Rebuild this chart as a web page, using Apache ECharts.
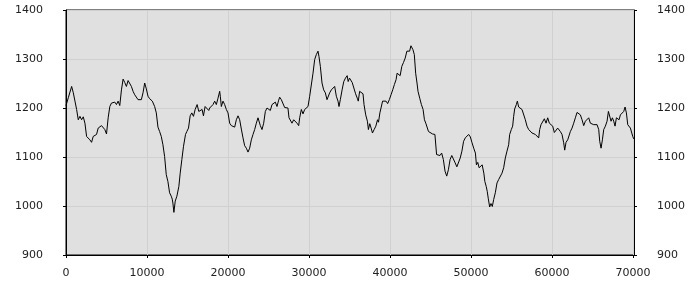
<!DOCTYPE html>
<html><head><meta charset="utf-8">
<script src="https://cdn.jsdelivr.net/npm/echarts@6/dist/echarts.min.js"></script>
<style>html,body{margin:0;padding:0;background:#fff}#c{width:700px;height:300px}</style>
</head><body><div id="c"></div>
<script>
var xValues = [0,287,697,902,1107,1311,1516,1721,1926,2131,2336,2541,2746,2951,3156,3361,3566,3770,3975,4385,4590,4795,5000,5205,5410,5615,6025,6230,6434,6639,6844,7049,7254,7459,7664,7869,8074,8279,8484,8689,8893,9098,9303,9508,9713,9918,10123,10328,10656,10943,11148,11352,11557,11762,11967,12172,12377,12582,12787,12992,13115,13197,13320,13484,13689,13934,14098,14303,14508,14754,14918,15123,15328,15533,15738,15943,16189,16393,16557,16803,16967,17172,17377,17623,17737,17943,18148,18354,18560,18765,18971,19050,19177,19383,19588,19794,20000,20206,20412,20600,20823,21029,21234,21440,21646,21851,22057,22263,22469,22674,22880,23086,23291,23497,23703,23830,23991,24197,24403,24608,24814,25020,25226,25431,25637,25840,26048,26255,26378,26584,26790,26995,27201,27400,27530,27695,27901,28107,28312,28518,28724,28847,29053,29259,29465,29670,29876,30082,30288,30494,30699,30905,31111,31230,31399,31605,31811,32016,32222,32350,32551,32757,32962,33168,33374,33579,33703,33867,34084,34292,34500,34709,34834,35000,35166,35333,35542,35750,35958,36083,36250,36458,36667,36792,37000,37208,37333,37500,37667,37833,38042,38250,38458,38580,38750,38917,39083,39292,39500,39708,39917,40125,40333,40542,40750,40875,41042,41250,41458,41667,41875,42083,42250,42417,42583,42708,42833,43000,43167,43333,43458,43667,43875,44083,44250,44417,44583,44750,44917,45250,45542,45750,45958,46167,46375,46583,46792,47000,47208,47417,47625,47833,48042,48250,48458,48667,48875,49083,49292,49500,49708,49917,50125,50333,50542,50667,50833,51000,51167,51375,51583,51708,51875,52000,52125,52299,52464,52629,52794,53000,53206,53412,53618,53823,54029,54235,54441,54647,54770,54976,55141,55264,55388,55594,55718,55882,56088,56294,56500,56706,56912,57118,57323,57529,57735,57941,58147,58353,58476,58641,58847,59053,59259,59465,59670,59876,60082,60288,60494,60700,60906,61029,61235,61441,61565,61729,61935,62059,62265,62470,62676,62882,63088,63294,63500,63706,63912,64118,64323,64529,64735,64941,65147,65353,65559,65765,65888,66053,66218,66382,66588,66794,66959,67123,67288,67453,67617,67782,67947,68111,68276,68441,68647,68853,69017,69182,69347,69511,69676,69841,69964,70088];
var yValues = [1205,1221,1244,1231,1214,1197,1176,1183,1176,1182,1169,1142,1139,1135,1130,1142,1139,1146,1159,1164,1168,1156,1147,1180,1203,1210,1212,1207,1214,1205,1237,1259,1252,1244,1256,1252,1244,1234,1227,1231,1217,1221,1217,1231,1251,1239,1224,1219,1214,1203,1190,1161,1152,1142,1125,1101,1064,1050,1027,1020,1014,1006,987,1010,1020,1040,1067,1095,1122,1146,1152,1159,1184,1190,1183,1197,1207,1193,1191,1197,1184,1203,1204,1195,1200,1197,1207,1214,1207,1220,1234,1224,1203,1214,1207,1197,1190,1169,1164,1166,1161,1176,1184,1176,1157,1139,1123,1118,1110,1118,1135,1146,1156,1169,1180,1184,1164,1156,1169,1193,1200,1200,1195,1207,1210,1212,1203,1216,1222,1217,1214,1201,1200,1200,1180,1184,1169,1176,1178,1169,1164,1180,1197,1188,1197,1193,1203,1224,1227,1271,1299,1309,1316,1305,1285,1251,1237,1231,1217,1214,1231,1237,1241,1244,1224,1214,1203,1217,1237,1254,1261,1266,1254,1261,1265,1252,1250,1229,1220,1214,1234,1234,1229,1207,1186,1173,1156,1168,1159,1149,1156,1163,1176,1171,1190,1202,1214,1217,1214,1209,1217,1227,1237,1248,1258,1271,1268,1266,1285,1293,1302,1316,1312,1316,1327,1331,1319,1309,1271,1251,1234,1220,1207,1197,1176,1169,1166,1152,1149,1147,1146,1105,1101,1103,1108,1095,1071,1061,1074,1095,1103,1105,1088,1080,1083,1098,1112,1132,1139,1139,1146,1141,1129,1118,1108,1084,1089,1078,1081,1084,1067,1050,1040,1030,1016,998,1005,999,1013,1027,1047,1054,1057,1067,1078,1098,1112,1125,1146,1156,1163,1183,1198,1207,1214,1202,1203,1197,1198,1176,1163,1156,1152,1149,1152,1146,1149,1139,1156,1166,1169,1178,1169,1180,1169,1166,1163,1150,1154,1159,1163,1152,1146,1129,1114,1130,1135,1132,1152,1159,1169,1180,1191,1190,1186,1176,1164,1173,1176,1180,1169,1173,1166,1163,1166,1156,1132,1118,1135,1156,1163,1173,1193,1197,1173,1180,1173,1163,1180,1183,1176,1186,1183,1193,1202,1190,1166,1163,1159,1163,1142,1137];
var xTicks = [0,10000,20000,30000,40000,50000,60000,70000];
var yTicks = [900,1000,1100,1200,1300,1400];

var pts = xValues.map(function(x,i){return [x,yValues[i]];});
var font = {fontFamily:'DejaVu Sans', fontSize:11, color:'#222'};
function yAxis(pos){
  return {type:'value', position:pos, min:900, max:1400, interval:100,
    axisLine:{show:true, lineStyle:{color:'#000'}},
    axisTick:{show:true, length:3, lineStyle:{color:'#000'}},
    axisLabel:Object.assign({margin:23, formatter:function(v){return yTicks.indexOf(v)>=0?String(v):'';}}, font),
    splitLine:{show:pos==='left', lineStyle:{color:'#d0d0d0'}}};
}
var chart = echarts.init(document.getElementById('c'), null, {renderer:'canvas'});
chart.setOption({
  animation:false,
  backgroundColor:'#fff',
  grid:{left:66, right:66, top:10, bottom:45, show:true, backgroundColor:'#e0e0e0', borderColor:'#000', borderWidth:1},
  xAxis:{type:'value', min:0, max:70120, interval:10000,
    axisLine:{show:true, onZero:false, lineStyle:{color:'#000'}},
    axisTick:{show:true, length:3, lineStyle:{color:'#000'}},
    axisLabel:Object.assign({margin:13, showMaxLabel:false, formatter:function(v){return xTicks.indexOf(v)>=0?String(v):'';}}, font),
    splitLine:{show:true, lineStyle:{color:'#d0d0d0'}}},
  yAxis:[yAxis('left'), yAxis('right')],
  series:[{type:'line', data:pts, showSymbol:false, symbol:'none', lineStyle:{color:'#000', width:1}, itemStyle:{color:'#000'}}]
});
</script></body></html>
